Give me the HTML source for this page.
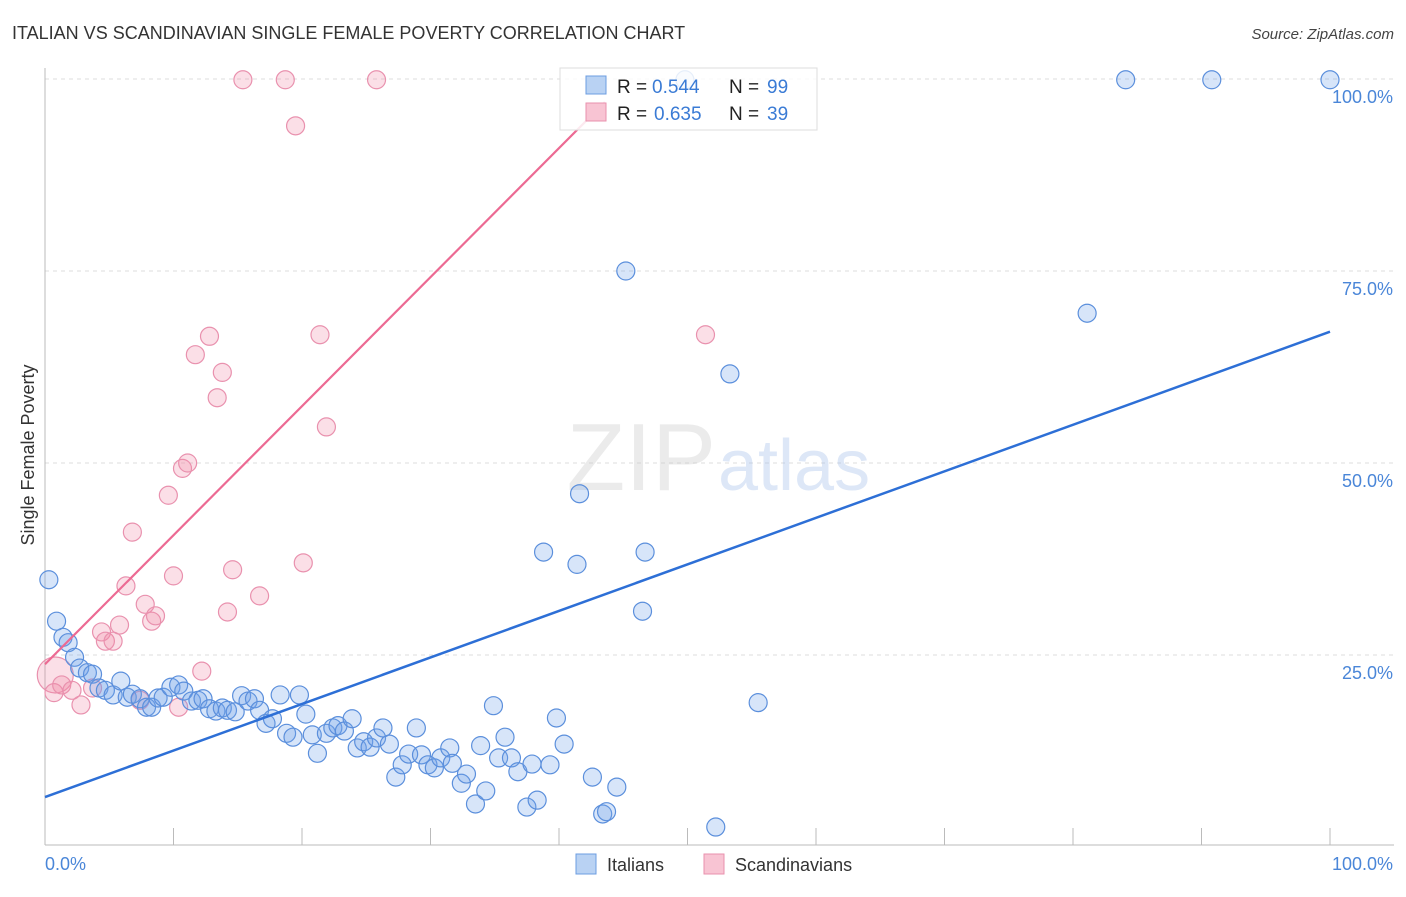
<!DOCTYPE html>
<html><head><meta charset="utf-8"><style>
body{margin:0;background:#fff;font-family:"Liberation Sans",sans-serif}
svg text{font-family:"Liberation Sans",sans-serif}
</style></head><body>
<svg width="1406" height="892" viewBox="0 0 1406 892" xmlns="http://www.w3.org/2000/svg">
<text x="12" y="39" font-size="18" fill="#333">ITALIAN VS SCANDINAVIAN SINGLE FEMALE POVERTY CORRELATION CHART</text>
<text x="1394" y="39" font-size="15" fill="#444" text-anchor="end" font-style="italic">Source: ZipAtlas.com</text>
<g id="grid"></g>
<text x="716" y="490" font-size="96" fill="#ccc" fill-opacity="0.4" text-anchor="end" font-family="Liberation Serif">ZIP</text>
<text x="718" y="490" font-size="72" fill="#a9c4ea" fill-opacity="0.4">atlas</text>
<g id="pts"></g>
<g id="lines"></g>
<text transform="translate(34,455) rotate(-90)" font-size="18" fill="#333" text-anchor="middle">Single Female Poverty</text>
<text x="45" y="870" font-size="18" fill="#4a86d8">0.0%</text>
<text x="1393" y="870" font-size="18" fill="#4a86d8" text-anchor="end">100.0%</text>
<g>
<rect x="560" y="68" width="257" height="62" fill="#fff" fill-opacity="0.85" stroke="#ddd"/>
<rect x="586" y="76" width="20" height="18" fill="#b9d2f3" stroke="#6c9de0"/>
<rect x="586" y="103" width="20" height="18" fill="#f8c4d3" stroke="#e991ae"/>
<text x="617" y="93" font-size="19" fill="#222">R =</text><text x="652" y="93" font-size="19" fill="#3a7bd5">0.544</text>
<text x="729" y="93" font-size="19" fill="#222">N =</text><text x="767" y="93" font-size="19" fill="#3a7bd5">99</text>
<text x="617" y="120" font-size="19" fill="#222">R =</text><text x="654" y="120" font-size="19" fill="#3a7bd5">0.635</text>
<text x="729" y="120" font-size="19" fill="#222">N =</text><text x="767" y="120" font-size="19" fill="#3a7bd5">39</text>
</g>
<g>
<rect x="576" y="854" width="20" height="20" fill="#b9d2f3" stroke="#6c9de0"/>
<text x="607" y="871" font-size="18" fill="#333">Italians</text>
<rect x="704" y="854" width="20" height="20" fill="#f8c4d3" stroke="#e991ae"/>
<text x="735" y="871" font-size="18" fill="#333">Scandinavians</text>
</g>
</svg>
<script>
const blueX=[0.3,0.9,1.4,1.8,2.3,2.7,3.3,3.7,4.2,4.7,5.3,5.9,6.4,6.8,7.4,7.9,8.3,8.8,9.2,9.8,10.4,10.8,11.4,11.9,12.3,12.8,13.3,13.8,14.2,14.8,15.3,15.8,16.3,16.7,17.2,17.7,18.3,18.8,19.3,19.8,20.3,20.8,21.2,21.9,22.4,22.8,23.3,23.9,24.3,24.8,25.3,25.8,26.3,26.8,27.3,27.8,28.3,28.9,29.3,29.8,30.3,30.8,31.5,31.7,32.4,32.8,33.5,33.9,34.3,34.9,35.3,35.8,36.3,36.8,37.5,37.9,38.3,38.8,39.3,39.8,40.4,41.4,41.6,42.6,43.4,43.7,44.5,45.2,46.5,46.7,49.8,52.2,53.3,55.5,81.1,84.1,90.8,100];
const blueY=[34.8,29.4,27.3,26.6,24.7,23.3,22.7,22.5,20.7,20.4,19.8,21.6,19.5,19.9,19.3,18.2,18.2,19.4,19.5,20.8,21.1,20.3,19.0,19.1,19.3,18.0,17.7,18.1,17.8,17.6,19.7,19.0,19.3,17.8,16.1,16.7,19.8,14.8,14.3,19.8,17.3,14.6,12.2,14.8,15.5,15.8,15.1,16.7,12.9,13.7,13.0,14.2,15.5,13.4,9.1,10.7,12.1,15.5,12.0,10.7,10.3,11.6,12.9,10.9,8.3,9.5,5.6,13.2,7.3,18.4,11.6,14.3,11.6,9.8,5.2,10.8,6.1,38.4,10.7,16.8,13.4,36.8,46.0,9.1,4.3,4.6,7.8,75.0,30.7,38.4,99.9,2.6,61.6,18.8,69.5,99.9,99.9,99.9];
const pinkX=[0.8,0.7,1.3,2.1,2.8,3.7,4.4,4.7,5.3,5.8,6.3,6.8,7.4,7.8,8.3,8.6,9.6,10.0,10.4,10.7,11.1,11.7,12.2,12.8,13.4,13.8,14.2,14.6,15.4,16.7,18.7,19.5,20.1,21.4,21.9,25.8,51.4];
const pinkY=[22.4,20.1,21.1,20.4,18.5,20.7,28.0,26.8,26.8,28.9,34.0,41.0,19.1,31.6,29.4,30.1,45.8,35.3,18.2,49.3,50.0,64.1,22.9,66.5,58.5,61.8,30.6,36.1,99.9,32.7,99.9,93.9,37.0,66.7,54.7,99.9,66.7];
const pinkR=[18,9,9,9,9,9,9,9,9,9,9,9,9,9,9,9,9,9,9,9,9,9,9,9,9,9,9,9,9,9,9,9,9,9,9,9,9];
const blueTrend=[6.5,67.1];
const pinkTrend=[23.8,1.68];
const yTicks=[25,50,75,100];
const xTicks=[0,10,20,30,40,50,60,70,80,90,100];
const NS="http://www.w3.org/2000/svg";
const sx=v=>45+v*12.85, sy=v=>847-v*7.68;
function mk(t,a,p){const e=document.createElementNS(NS,t);for(const k in a)e.setAttribute(k,a[k]);p.appendChild(e);return e;}
const grid=document.getElementById('grid');
yTicks.forEach(t=>{
 const l=mk('line',{x1:45,x2:1394,y1:sy(t),y2:sy(t),stroke:'#ddd','stroke-dasharray':'4,4'},grid);
 
 
 const tx=mk('text',{x:1393,y:sy(t)+24,'font-size':18,fill:'#4a86d8','text-anchor':'end'},grid);
 tx.textContent=t.toFixed(1)+'%';
 
 
});
const ax=mk('line',{x1:45,x2:1394,y1:845,y2:845,stroke:'#bbb'},grid);


const ay=mk('line',{x1:45,x2:45,y1:68,y2:845,stroke:'#bbb'},grid);


xTicks.forEach(t=>{
 const l=mk('line',{x1:sx(t),x2:sx(t),y1:828,y2:845,stroke:'#bbb'},grid);
 
 
});
const pts=document.getElementById('pts');
pinkX.forEach((x,i)=>{
 const c=mk('circle',{cx:sx(x),cy:sy(pinkY[i]),r:pinkR[i],fill:'rgba(240,140,170,0.28)',stroke:'#e991ae','stroke-width':1.2},pts);
 
 
});
blueX.forEach((x,i)=>{
 const c=mk('circle',{cx:sx(x),cy:sy(blueY[i]),r:9,fill:'rgba(110,160,235,0.28)',stroke:'#5b8fdc','stroke-width':1.2},pts);
 
 
});
const lines=document.getElementById('lines');
const bl=mk('line',{x1:sx(0),y1:sy(blueTrend[0]),x2:sx(100),y2:sy(blueTrend[1]),stroke:'#2d6fd6','stroke-width':2.5},lines);


const xEnd=(97-pinkTrend[0])/pinkTrend[1];
const pl=mk('line',{x1:sx(0),y1:sy(pinkTrend[0]),x2:sx(xEnd),y2:sy(97),stroke:'#ec6a93','stroke-width':2.2},lines);


</script>
</body></html>
